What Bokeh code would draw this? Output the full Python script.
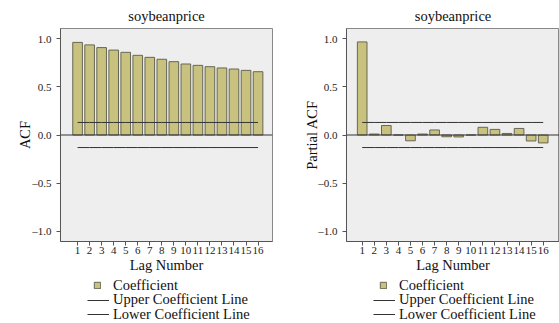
from bokeh.plotting import figure
from bokeh.models import (Range1d, FixedTicker, CustomJSTickFormatter, Span, Legend,
                          LegendItem, ColumnDataSource)
from bokeh.layouts import row, column
from bokeh.embed import file_html
from bokeh.resources import INLINE

lags = list(range(1, 17))
acf = [0.960, 0.934, 0.906, 0.880, 0.857, 0.826, 0.805, 0.785,
       0.760, 0.736, 0.722, 0.708, 0.695, 0.684, 0.670, 0.656]
pacf = [0.965, 0.010, 0.098, 0.000, -0.060, 0.010, 0.052, -0.018,
        -0.020, 0.000, 0.080, 0.058, 0.016, 0.068, -0.062, -0.082]
upper_limit = [0.13] * 16
lower_limit = [-0.13] * 16
series_title = "soybeanprice"
x_label = "Lag Number"
y_ticks = [-1.0, -0.5, 0.0, 0.5, 1.0]
legend_labels = ["Coefficient", "Upper Coefficient Line", "Lower Coefficient Line"]

FONT = "Liberation Serif"
BAR_FILL = "#C9C27F"
BAR_LINE = "#666655"
LIM_LINE = "#333333"
BG = "#EEEEEE"


def make_panel(values, ylabel, frame_w, border_left, border_right, xstart, xend, lab_off):
    p = figure(frame_width=frame_w, frame_height=213, output_backend="svg",
               toolbar_location=None,
               x_range=Range1d(xstart, xend), y_range=Range1d(-1.104, 1.104),
               min_border_left=border_left, min_border_right=border_right,
               min_border_top=28, min_border_bottom=34,
               background_fill_color=BG, border_fill_color="white",
               outline_line_color="#888888", outline_line_width=1)
    p.title.text = series_title
    p.title.align = "center"
    p.title.text_font = FONT
    p.title.text_font_size = "14.5px"
    p.title.text_font_style = "normal"
    p.title.text_color = "#111111"
    p.grid.visible = False

    src = ColumnDataSource(dict(lag=lags, val=values, up=upper_limit, lo=lower_limit))
    p.vbar(x="lag", top="val", bottom=0, width=0.8, source=src,
           fill_color=BAR_FILL, line_color=BAR_LINE, line_width=1)
    p.line(x="lag", y="up", source=src, line_color=LIM_LINE, line_width=1)
    p.line(x="lag", y="lo", source=src, line_color=LIM_LINE, line_width=1)
    p.add_layout(Span(location=0, dimension="width", line_color=LIM_LINE, line_width=1))

    xa = p.xaxis[0]
    xa.ticker = FixedTicker(ticks=lags)
    xa.axis_label = x_label
    ya = p.yaxis[0]
    ya.ticker = FixedTicker(ticks=y_ticks)
    ya.formatter = CustomJSTickFormatter(
        code="return (tick < 0 ? '\u2013' : '') + Math.abs(tick).toFixed(1);")
    ya.axis_label = ylabel
    for ax in (xa, ya):
        ax.minor_tick_line_color = None
        ax.major_tick_in = 0
        ax.major_tick_out = 4
        ax.axis_line_color = "#555555"
        ax.major_tick_line_color = "#555555"
        ax.major_label_text_font = FONT
        ax.major_label_text_font_size = "11px"
        ax.major_label_text_font_style = "normal"
        ax.major_label_text_color = "#222222"
        ax.axis_label_text_font = FONT
        ax.axis_label_text_font_size = "14.5px"
        ax.axis_label_text_font_style = "normal"
        ax.axis_label_text_color = "#111111"
    xa.major_label_standoff = 1
    xa.axis_label_standoff = 0
    ya.major_label_standoff = 5
    ya.axis_label_standoff = lab_off
    return p


def make_legend(width, frame_left):
    lg = figure(width=width, height=48, output_backend="svg", toolbar_location=None,
                x_range=Range1d(-20, -19), y_range=Range1d(-20, -19),
                x_axis_type=None, y_axis_type=None,
                min_border_left=0, min_border_right=0, min_border_top=0, min_border_bottom=0,
                outline_line_color=None, background_fill_color="white",
                border_fill_color="white")
    lg.grid.visible = False
    # legend-only renderers: their data lies outside the visible ranges
    src = ColumnDataSource(dict(x=lags, top=acf, up=upper_limit, lo=lower_limit))
    bar_r = lg.vbar(x="x", top="top", width=0.8, source=src,
                    fill_color=BAR_FILL, line_color=BAR_LINE, line_width=1)
    up_r = lg.line(x="x", y="up", source=src, line_color=LIM_LINE, line_width=1)
    lo_r = lg.line(x="x", y="lo", source=src, line_color=LIM_LINE, line_width=1)
    common = dict(padding=0, margin=0, spacing=0, border_line_color=None,
                  background_fill_alpha=0, label_text_font=FONT,
                  label_text_font_size="14.5px", label_text_color="#111111",
                  label_height=14)
    specs = [(legend_labels[0], bar_r, frame_left + 33, 29.5, 8, 8, 12),
             (legend_labels[1], up_r, frame_left + 27, 15, 22, 8, 4),
             (legend_labels[2], lo_r, frame_left + 27, 0.5, 22, 8, 4)]
    for label, r, lx, ly, gw, gh, so in specs:
        lg.add_layout(Legend(items=[LegendItem(label=label, renderers=[r], index=0)],
                             location=(lx, ly), glyph_width=gw, glyph_height=gh,
                             label_standoff=so, **common))
    return lg


p1 = make_panel(acf, "ACF", 212, 60, 8, -0.42, 17.2, -4)
p2 = make_panel(pacf, "Partial ACF", 213, 66, 0, -0.30, 17.35, -5)
l1 = make_legend(280, 60)
l2 = make_legend(279, 66)
layout = column(row(p1, p2), row(l1, l2))

open("out.html", "w").write(file_html(layout, INLINE))
